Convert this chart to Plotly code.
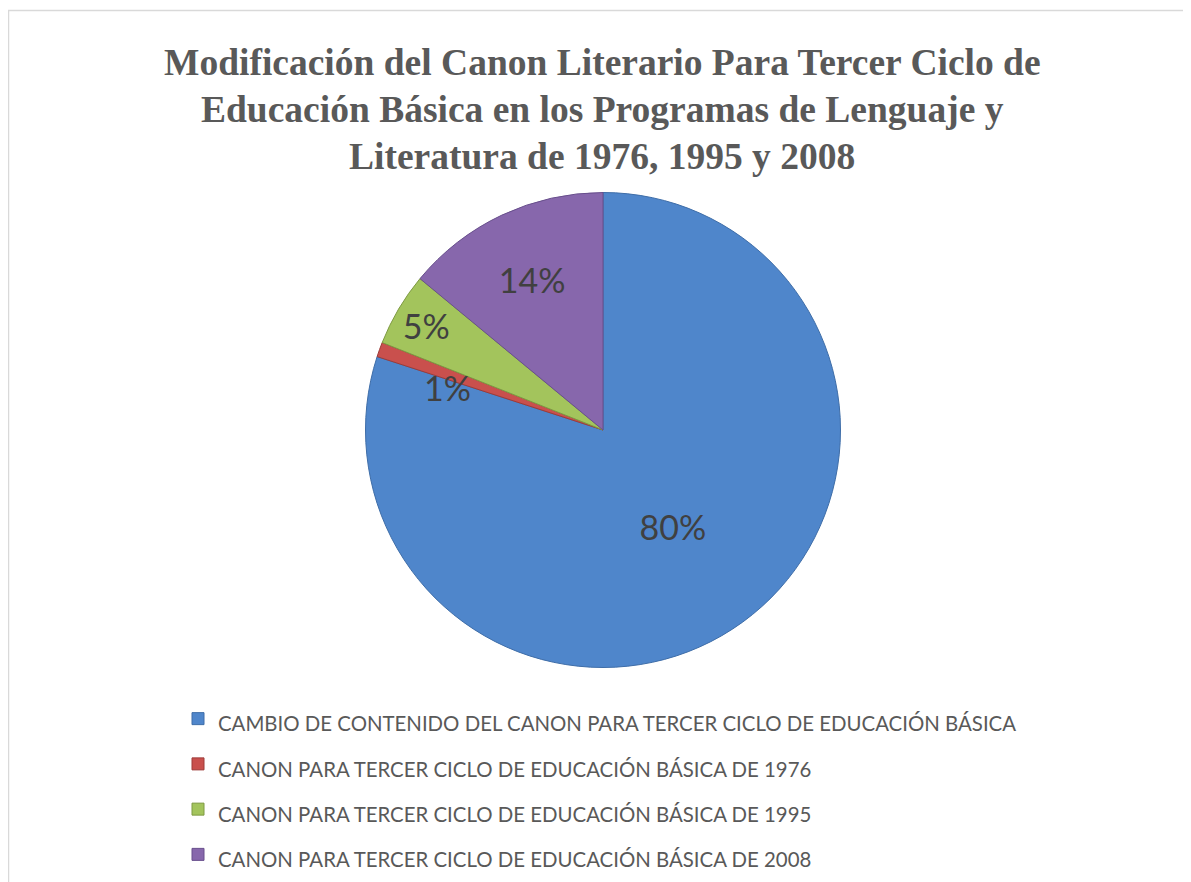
import numpy as np
import plotly.graph_objects as go

labels = [
    "CAMBIO DE CONTENIDO DEL CANON PARA TERCER CICLO DE EDUCACIÓN BÁSICA",
    "CANON PARA TERCER CICLO DE EDUCACIÓN BÁSICA DE 1976",
    "CANON PARA TERCER CICLO DE EDUCACIÓN BÁSICA DE 1995",
    "CANON PARA TERCER CICLO DE EDUCACIÓN BÁSICA DE 2008",
]
values = [80, 1, 5, 14]
colors = ["#4F86CB", "#C9504D", "#A3C45C", "#8767AC"]
edge_colors = ["#3E6DA8", "#9E3B38", "#7E9A42", "#684F8C"]
title_lines = [
    "Modificación del Canon Literario Para Tercer Ciclo de",
    "Educación Básica en los Programas de Lenguaje y",
    "Literatura de 1976, 1995 y 2008",
]

# page body has an 8px margin: figure coordinates = screen - 8
OFF = 8
W, H = 1191 - OFF, 882 - OFF
cx, cy, R = 603 - OFF, 430 - OFF, 237.5

def px(x):
    return x / W

def py(y):
    return 1 - y / H

legend_labels = [f"<span style='font-size:20.4px'>{l}</span>" for l in labels]

# labels too small to sit inside their slice are drawn as annotations at the slice's mid-angle
small = [v / sum(values) < 0.03 for v in values]
texts = ["" if s else f"{round(100 * v / sum(values))}%" for v, s in zip(values, small)]

fig = go.Figure(go.Pie(
    labels=legend_labels,
    values=values,
    text=texts,
    sort=False,
    direction="clockwise",
    rotation=0,
    marker=dict(colors=colors, line=dict(color=edge_colors, width=1)),
    textinfo="text",
    textposition="inside",
    insidetextorientation="horizontal",
    textfont=dict(family="Lato", size=34, color="#404040"),
    hoverinfo="skip",
    domain=dict(x=[px(cx - R), px(cx + R)], y=[py(cy + R), py(cy - R)]),
))

annotations = []
title_y0, title_gap = 63, 47
for i, t in enumerate(title_lines):
    annotations.append(dict(
        text=f"<b>{t}</b>",
        x=px(602 - OFF), y=py(title_y0 + i * title_gap - OFF), xref="paper", yref="paper",
        xanchor="center", yanchor="middle", showarrow=False,
        font=dict(family="Liberation Serif", size=37.5, color="#595959"),
    ))

cum = np.cumsum(values) - np.array(values) / 2
for v, s, c in zip(values, small, cum):
    if not s:
        continue
    ang = np.deg2rad(360 * c / sum(values))
    r_lab = 0.68 * R
    annotations.append(dict(
        text=f"{round(100 * v / sum(values))}%",
        x=px(cx + r_lab * np.sin(ang)), y=py(cy - r_lab * np.cos(ang)),
        xref="paper", yref="paper", showarrow=False,
        xanchor="center", yanchor="middle", xshift=-4, yshift=-12,
        font=dict(family="Lato", size=34, color="#404040"),
    ))

fig.update_layout(
    width=W, height=H,
    margin=dict(l=0, r=0, t=0, b=0),
    paper_bgcolor="white",
    showlegend=True,
    legend=dict(
        x=px(220 - 42 - OFF), xanchor="left",
        y=py(691 - OFF), yanchor="top",
        font=dict(family="Lato", size=32.5, color="#595959"),
        bgcolor="rgba(0,0,0,0)",
    ),
    annotations=annotations,
    shapes=[dict(
        type="rect", xref="paper", yref="paper",
        x0=px(0.5), x1=px(1190 - OFF), y0=-0.05, y1=py(10.5 - OFF),
        line=dict(color="#D9D9D9", width=1.5),
    )],
)

fig.write_html("out.html")
